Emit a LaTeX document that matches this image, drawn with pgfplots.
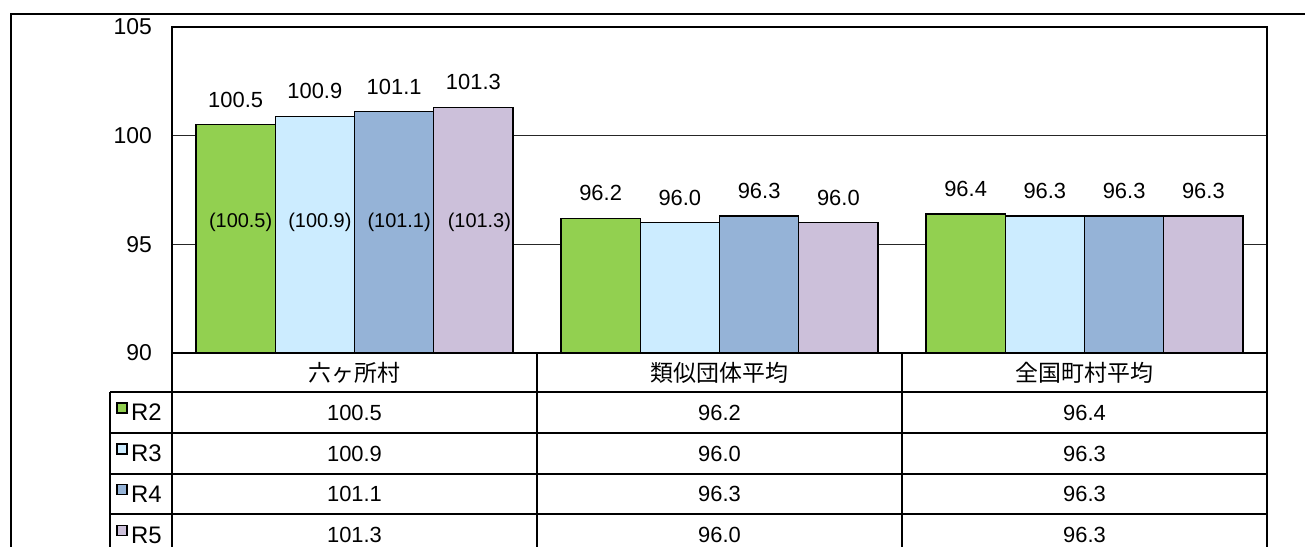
\documentclass[border=0pt]{standalone}
\usepackage{pgfplots}
\pgfplotsset{compat=1.18}
\usepackage{fontspec}
\setmainfont{Liberation Sans}
\newfontfamily\cjk{Noto Sans CJK JP}
\definecolor{cA}{HTML}{92D050}
\definecolor{cB}{HTML}{CCECFF}
\definecolor{cC}{HTML}{95B3D7}
\definecolor{cD}{HTML}{CCC0DA}
\newcommand\tf{\fontsize{22}{22}\selectfont}
\newcommand\jf{\cjk\fontsize{23}{23}\selectfont}
\begin{document}
\begin{tikzpicture}
\useasboundingbox (0,0) rectangle (1305bp,-547bp);
\fill[white] (0,0) rectangle (1305bp,-547bp);
% outer frame
\draw[line width=1.5bp] (11bp,-547bp) -- (11bp,-14bp) -- (1305bp,-14bp);
\begin{axis}[
  at={(172bp,-353bp)}, anchor=south west,
  scale only axis, width=1095bp, height=326bp,
  xmin=-0.5, xmax=2.5, ymin=90, ymax=105,
  ytick={90,95,100,105}, xtick=\empty,
  ymajorgrids, grid style={black!85, line width=1bp},
  major tick length=0pt,
  axis line style={line width=1.7bp},
  ybar, bar width=0.2171,
  yticklabel style={font=\fontsize{23}{23}\selectfont, inner sep=0pt, xshift=-20bp},
  /pgf/number format/assume math mode=true,
  nodes near coords,
  nodes near coords style={font=\tf, anchor=center, yshift=25bp,
    /pgf/number format/fixed, /pgf/number format/fixed zerofill,
    /pgf/number format/precision=1},
  clip=false,
]
\addplot[fill=cA, draw=black, line width=1.2bp, bar shift=-0.3257] coordinates {(0,100.5) (1,96.2) (2,96.4)};
\addplot[fill=cB, draw=black, line width=1.2bp, bar shift=-0.1086] coordinates {(0,100.9) (1,96.0) (2,96.3)};
\addplot[fill=cC, draw=black, line width=1.2bp, bar shift=0.1086] coordinates {(0,101.1) (1,96.3) (2,96.3)};
\addplot[fill=cD, draw=black, line width=1.2bp, bar shift=0.3257] coordinates {(0,101.3) (1,96.0) (2,96.3)};
\node[font=\fontsize{20}{20}\selectfont, xshift=5bp] at (axis cs:-0.3257,96.0) {(100.5)};
\node[font=\fontsize{20}{20}\selectfont, xshift=5bp] at (axis cs:-0.1086,96.0) {(100.9)};
\node[font=\fontsize{20}{20}\selectfont, xshift=5bp] at (axis cs:0.1086,96.0) {(101.1)};
\node[font=\fontsize{20}{20}\selectfont, xshift=6bp] at (axis cs:0.3257,96.0) {(101.3)};
\end{axis}
% data table
\begin{scope}[line width=1.2bp]
\foreach \y in {392,433,474,514} \draw (110bp,-\y bp) -- (1267bp,-\y bp);
\draw (110bp,-392bp) -- (110bp,-560bp);
\draw[line width=1.2bp] (537bp,-353bp) -- (537bp,-560bp);
\draw[line width=1.2bp] (902bp,-353bp) -- (902bp,-560bp);
\draw[line width=1.7bp] (172bp,-353bp) -- (172bp,-560bp);
\draw[line width=1.7bp] (1267bp,-353bp) -- (1267bp,-560bp);
\end{scope}
\node[font=\jf] at (354.5bp,-373bp) {六ヶ所村};
\node[font=\jf] at (719.5bp,-373bp) {類似団体平均};
\node[font=\jf] at (1084.5bp,-373bp) {全国町村平均};
% rows
\foreach \yy/\lab/\col/\a/\b/\c in {412.5/R2/cA/100.5/96.2/96.4, 453.5/R3/cB/100.9/96.0/96.3, 494/R4/cC/101.1/96.3/96.3, 535/R5/cD/101.3/96.0/96.3}{
  \draw[fill=\col, line width=1.2bp] (117bp,-\yy bp+0bp) ++(0,9.5bp) rectangle ++(10bp,-10bp);
  \node[font=\fontsize{24}{24}\selectfont, anchor=west, inner sep=0pt] at (131bp,-\yy bp) {\lab};
  \node[font=\tf] at (354.5bp,-\yy bp) {\a};
  \node[font=\tf] at (719.5bp,-\yy bp) {\b};
  \node[font=\tf] at (1084.5bp,-\yy bp) {\c};
}
\end{tikzpicture}
\end{document}
